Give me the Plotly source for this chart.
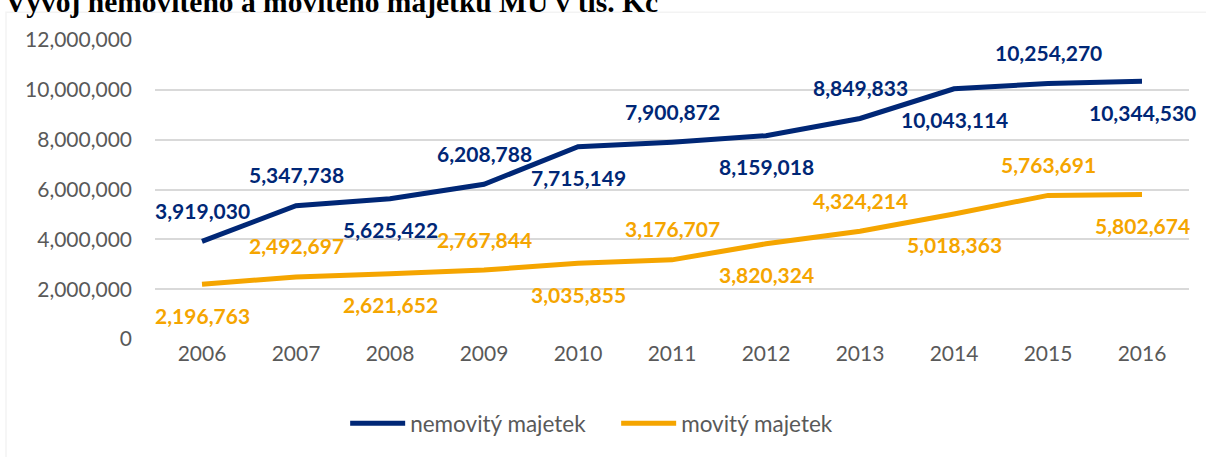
import plotly.graph_objects as go

years = ['2006', '2007', '2008', '2009', '2010', '2011', '2012', '2013', '2014', '2015', '2016']
nemovity = [3919030, 5347738, 5625422, 6208788, 7715149, 7900872, 8159018, 8849833, 10043114, 10254270, 10344530]
movity = [2196763, 2492697, 2621652, 2767844, 3035855, 3176707, 3820324, 4324214, 5018363, 5763691, 5802674]
# label above (+1) or below (-1) the point
nemovity_pos = [1, 1, -1, 1, -1, 1, -1, 1, -1, 1, -1]
movity_pos = [-1, 1, -1, 1, -1, 1, -1, 1, -1, 1, -1]
y_ticks = [0, 2000000, 4000000, 6000000, 8000000, 10000000, 12000000]

blue = '#002776'
orange = '#F5A500'
font = 'Lato, Open Sans, sans-serif'

fig = go.Figure()
fig.add_trace(go.Scatter(x=years, y=nemovity, mode='lines', name='nemovitý majetek',
                         line=dict(color=blue, width=5)))
fig.add_trace(go.Scatter(x=years, y=movity, mode='lines', name='movitý majetek',
                         line=dict(color=orange, width=5)))

# data labels (category axis: position by category index)
for vals, pos, col in [(nemovity, nemovity_pos, blue), (movity, movity_pos, orange)]:
    for i, (v, p) in enumerate(zip(vals, pos)):
        fig.add_annotation(x=i, y=v, text=f"{v:,}", showarrow=False, yshift=31 * p,
                           font=dict(family=font, size=21, color=col, weight='bold'))

# clipped heading above the chart box
fig.add_annotation(xref='paper', yref='paper', x=-0.147, y=1, xanchor='left', yanchor='middle',
                   yshift=38.5, text='Vývoj nemovitého a movitého majetku MU v tis. Kč', showarrow=False,
                   font=dict(family='Liberation Serif, Times New Roman, serif', size=29.5, color='black',
                             weight='bold'))

# chart border
fig.add_shape(type='rect', xref='paper', yref='paper', x0=-0.1441, x1=1.05, y0=-0.5, y1=1.0924,
              line=dict(color='#D9D9D9', width=1.5), fillcolor='rgba(0,0,0,0)', layer='below')

fig.update_layout(width=1206, height=457, template='simple_white',
                  margin=dict(l=155, r=17, t=40, b=114),
                  plot_bgcolor='white', paper_bgcolor='white',
                  font=dict(family=font, size=21, color='#595959'),
                  legend=dict(orientation='h', x=0.446, xanchor='center', y=-0.355, yanchor='bottom',
                              font=dict(size=22.5, color='#595959'), itemwidth=55,
                              entrywidth=201, entrywidthmode='pixels',
                              bgcolor='rgba(0,0,0,0)'),
                  showlegend=True)
fig.update_xaxes(type='category', range=[-0.5, 10.5], showline=False, ticks='',
                 tickfont=dict(size=21, color='#595959'))
fig.update_yaxes(range=[0, 12000000], tickvals=y_ticks, tickformat=',d', showline=False, ticks='',
                 showgrid=True, gridcolor='#D9D9D9', gridwidth=1.5, ticklabelstandoff=22,
                 tickfont=dict(size=21, color='#595959'), zeroline=False)

# page body has a default 8px margin; drop it so the figure sits at the window corner
fig.write_html("out.html", config={'displayModeBar': False},
               post_script="document.body.style.margin='0';")
